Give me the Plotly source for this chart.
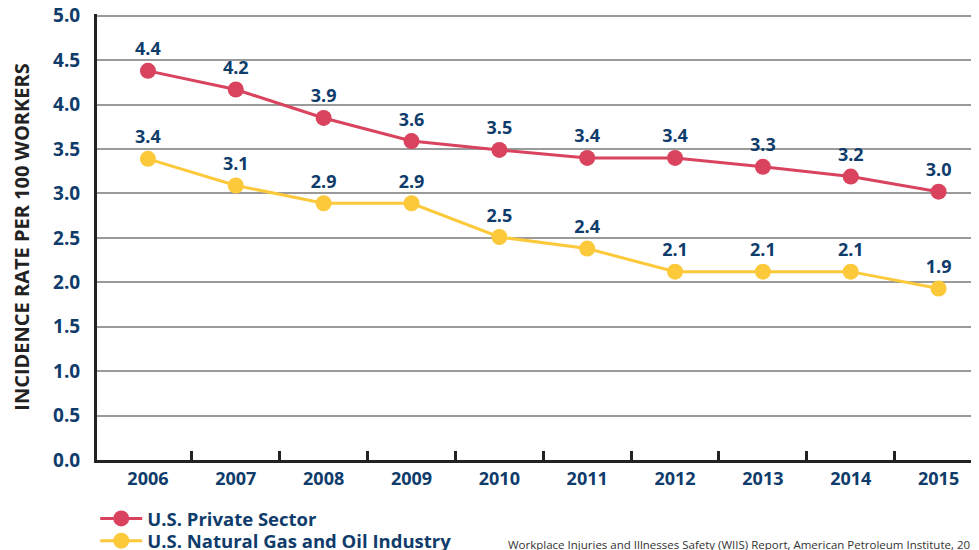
import plotly.graph_objects as go

# Data
years = [2006, 2007, 2008, 2009, 2010, 2011, 2012, 2013, 2014, 2015]
private_sector = [4.38, 4.17, 3.85, 3.59, 3.49, 3.40, 3.40, 3.30, 3.19, 3.02]
private_labels = ["4.4", "4.2", "3.9", "3.6", "3.5", "3.4", "3.4", "3.3", "3.2", "3.0"]
gas_oil = [3.39, 3.09, 2.89, 2.89, 2.51, 2.38, 2.12, 2.12, 2.12, 1.93]
gas_oil_labels = ["3.4", "3.1", "2.9", "2.9", "2.5", "2.4", "2.1", "2.1", "2.1", "1.9"]
y_ticks = [0, 0.5, 1, 1.5, 2, 2.5, 3, 3.5, 4, 4.5, 5]

navy = "#0f3c6b"
red = "#d9435e"
yellow = "#fcc93a"
font_family = "Open Sans, Noto Sans, sans-serif"

fig = go.Figure()

# Add the two series, each with its own legend box so the rows sit tight
for name, vals, labels, color, leg in [
    ("U.S. Private Sector", private_sector, private_labels, red, "legend"),
    ("U.S. Natural Gas and Oil Industry", gas_oil, gas_oil_labels, yellow, "legend2"),
]:
    fig.add_trace(go.Scatter(
        x=years, y=vals, name=name,
        mode="lines+markers+text",
        line=dict(color=color, width=3),
        marker=dict(color=color, size=16),
        text=labels,
        textposition="top center",
        textfont=dict(family=font_family, size=18, color=navy, weight="bold"),
        cliponaxis=False,
        legend=leg,
    ))

legend_style = dict(
    x=-0.002, xanchor="left", yanchor="middle",
    font=dict(family=font_family, size=18.5, color=navy, weight="bold"),
    itemwidth=42,
    bgcolor="rgba(0,0,0,0)",
)

# page body has an 8px margin, so the figure is a bit smaller than the window
fig.update_layout(
    width=971,
    height=542,
    margin=dict(l=89, r=0, t=6, b=90, autoexpand=False),
    plot_bgcolor="white",
    paper_bgcolor="white",
    font=dict(family=font_family, color=navy),
    showlegend=True,
    legend=dict(y=-0.132, **legend_style),
    legend2=dict(y=-0.182, **legend_style),
    xaxis=dict(
        range=[years[0] - 0.58, years[-1] + 0.46],
        tickvals=years,
        ticktext=[str(y) for y in years],
        ticks="",
        showgrid=False,
        zeroline=False,
        showline=True,
        linecolor="#222222",
        linewidth=3,
        tickfont=dict(family=font_family, size=18, color=navy, weight="bold"),
        minor=dict(
            tickmode="array",
            tickvals=[y + 0.5 for y in years[:-1]],
            ticks="inside",
            ticklen=9,
            tickwidth=3,
            tickcolor="#222222",
            showgrid=False,
        ),
    ),
    yaxis=dict(
        range=[0, 5.02],
        tickvals=y_ticks,
        ticktext=[f"{v:.1f}" for v in y_ticks],
        ticklabeloverflow="allow",
        showgrid=True,
        gridcolor="#9a9a9a",
        gridwidth=1.5,
        zeroline=False,
        showline=True,
        linecolor="#222222",
        linewidth=3,
        ticks="outside",
        ticklen=10,
        tickcolor="rgba(0,0,0,0)",
        tickfont=dict(family=font_family, size=19, color=navy, weight="bold"),
        title=dict(
            text="INCIDENCE RATE PER 100 WORKERS",
            font=dict(family=font_family, size=20, color="#222222", weight="bold"),
            standoff=22,
        ),
    ),
)

# Source note at the bottom
fig.add_annotation(
    text="Workplace Injuries and Illnesses Safety (WIIS) Report, American Petroleum Institute, 2016",
    xref="paper", yref="paper",
    x=(506 - 97) / 882, y=-0.19,
    xanchor="left", yanchor="middle",
    showarrow=False,
    font=dict(family=font_family, size=11.5, color="#333333"),
)

fig.write_html("out.html")
